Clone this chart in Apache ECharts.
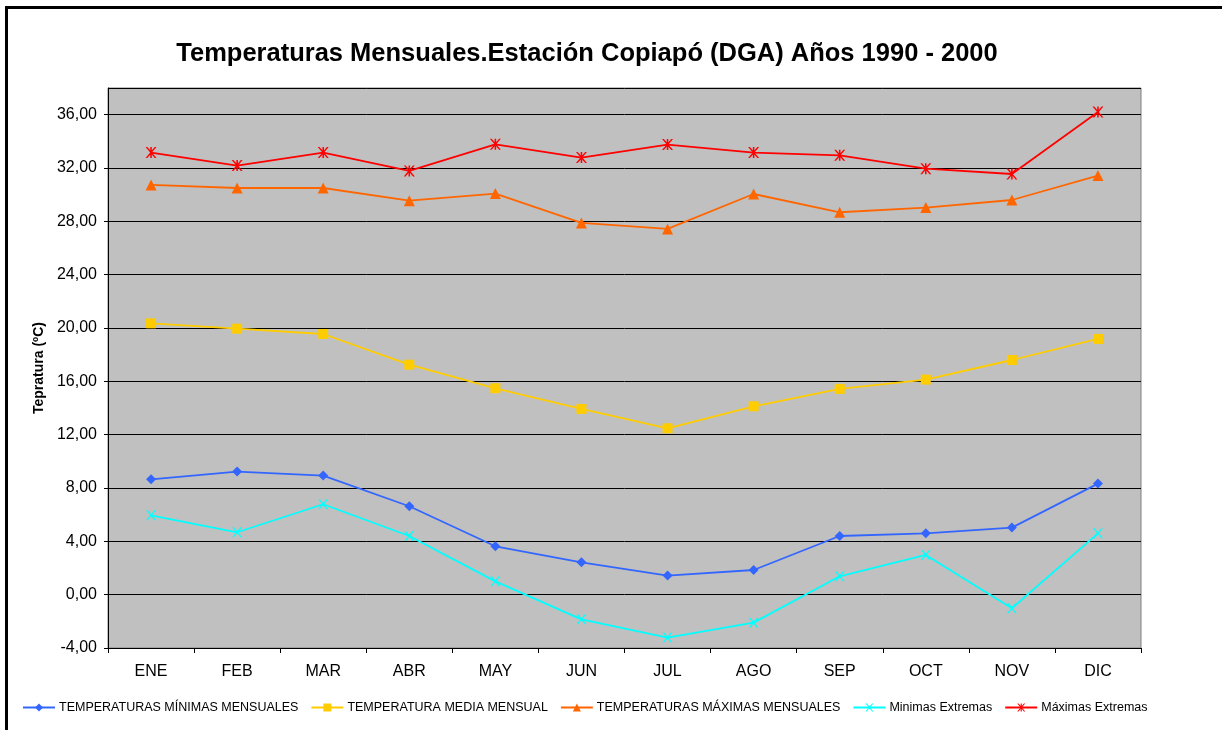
<!DOCTYPE html>
<html>
<head>
<meta charset="utf-8">
<script src="https://cdn.jsdelivr.net/npm/echarts@6/dist/echarts.min.js"></script>
<style>
  html, body { margin: 0; padding: 0; background: #fff; }
  #frame { position: absolute; left: 5px; top: 6px; width: 1300px; height: 800px; border-left: 3px solid #000; border-top: 3px solid #000; box-sizing: border-box; }
  #chart { position: absolute; left: 0; top: 0; width: 1222px; height: 730px; }
</style>
</head>
<body>
<div id="frame"></div>
<div id="chart"></div>
<script>
const months = ['ENE','FEB','MAR','ABR','MAY','JUN','JUL','AGO','SEP','OCT','NOV','DIC'];
const minMensual = [8.65, 9.23, 8.93, 6.63, 3.63, 2.43, 1.43, 1.85, 4.40, 4.60, 5.03, 8.33];
const mediaMensual = [20.35, 19.95, 19.55, 17.25, 15.48, 13.93, 12.48, 14.13, 15.43, 16.13, 17.60, 19.18];
const maxMensual = [30.73, 30.50, 30.50, 29.55, 30.08, 27.88, 27.43, 30.05, 28.68, 29.03, 29.60, 31.43];
const minExtremas = [5.95, 4.68, 6.78, 4.40, 1.00, -1.85, -3.22, -2.10, 1.38, 2.98, -1.02, 4.60];
const maxExtremas = [33.16, 32.18, 33.16, 31.78, 33.78, 32.78, 33.76, 33.16, 32.95, 31.95, 31.55, 36.20];
const seriesNames = ['TEMPERATURAS MÍNIMAS MENSUALES','TEMPERATURA MEDIA MENSUAL','TEMPERATURAS MÁXIMAS MENSUALES','Minimas Extremas','Máximas Extremas'];

const xSym = 'path://M0,0 L1.6,0 L5,3.8 L8.4,0 L10,0 L5.8,4.9 L10,10 L8.4,10 L5,6 L1.6,10 L0,10 L4.2,4.9 Z';
const starSym = 'path://M0,0 L1.6,0 L5,3.8 L8.4,0 L10,0 L5.8,4.9 L10,10 L8.4,10 L5,6 L1.6,10 L0,10 L4.2,4.9 Z M4.3,0 L5.7,0 L5.7,10 L4.3,10 Z';

const chart = echarts.init(document.getElementById('chart'));
const font = 'Liberation Sans, Arial, sans-serif';
function mk(name, data, color, symbol, size) {
  return {
    name: name, type: 'line', data: data, symbol: symbol, symbolSize: size,
    lineStyle: { color: color, width: 1.8 },
    itemStyle: { color: color },
    emphasis: { disabled: true }
  };
}
chart.setOption({
  animation: false,
  textStyle: { fontFamily: font },
  title: {
    text: 'Temperaturas Mensuales.Estación Copiapó (DGA) Años 1990 - 2000',
    left: 582, top: 36, textAlign: 'center',
    textStyle: { fontFamily: font, fontSize: 25.5, fontWeight: 'bold', color: '#000' }
  },
  legend: {
    bottom: 11, left: 17, itemWidth: 32, itemHeight: 10, itemGap: 12,
    textStyle: { fontFamily: font, fontSize: 12.5, color: '#000', padding: [0,0,0,-1] },
    data: seriesNames
  },
  grid: {
    left: 108, right: 81, top: 88, bottom: 82,
    show: true, backgroundColor: '#C0C0C0', borderColor: '#808080', borderWidth: 1
  },
  xAxis: {
    type: 'category', data: months, boundaryGap: true,
    axisLine: { onZero: false, lineStyle: { color: '#000', width: 1 } },
    axisTick: { show: true, length: 5, lineStyle: { color: '#000' } },
    axisLabel: { fontFamily: font, fontSize: 16, color: '#000', margin: 16 }
  },
  yAxis: {
    type: 'value', min: -4, max: 38, interval: 4,
    name: 'Tepratura (ºC)', nameLocation: 'middle', nameGap: 60, nameRotate: 90,
    nameTextStyle: { fontFamily: font, fontSize: 14, fontWeight: 'bold', color: '#000' },
    axisLine: { show: true, lineStyle: { color: '#000', width: 1 } },
    axisTick: { show: true, length: 4, lineStyle: { color: '#000' } },
    axisLabel: {
      fontFamily: font, fontSize: 16, color: '#000', margin: 11, showMaxLabel: false,
      formatter: function (v) { return v > 36 ? '' : v.toFixed(2).replace('.', ','); }
    },
    splitLine: { show: true, lineStyle: { color: '#000', width: 1 } }
  },
  series: [
    mk(seriesNames[0], minMensual, '#3366FF', 'diamond', 10),
    mk(seriesNames[1], mediaMensual, '#FFCC00', 'rect', 10),
    mk(seriesNames[2], maxMensual, '#FF6600', 'triangle', 11),
    mk(seriesNames[3], minExtremas, '#00FFFF', xSym, 10),
    mk(seriesNames[4], maxExtremas, '#FF0000', starSym, 11)
  ]
});
</script>
</body>
</html>
